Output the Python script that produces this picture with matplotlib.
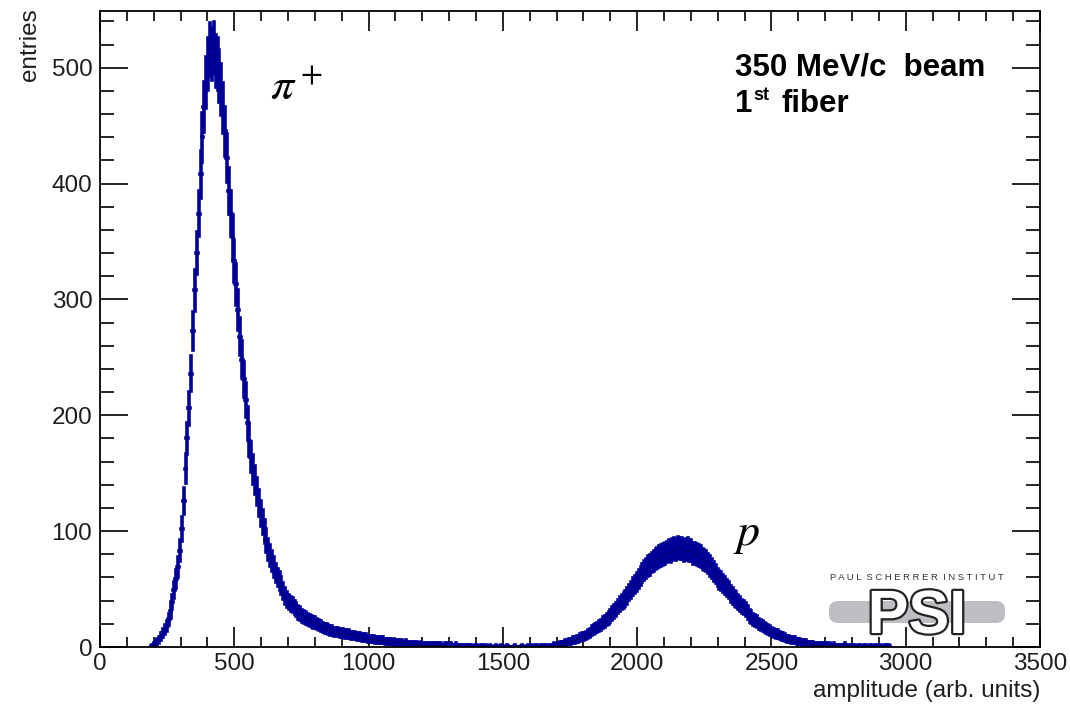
"""Pulse amplitude spectrum of the 1st fiber at 350 MeV/c beam (pi+ and proton peaks)."""

import matplotlib

matplotlib.use("Agg")
import matplotlib.patheffects as pe
import matplotlib.pyplot as plt
import numpy as np
from matplotlib.patches import FancyBboxPatch
from matplotlib.ticker import MultipleLocator

BIN_WIDTH = 7
FIRST_BIN = 189

# pi+ peak and its tail, bins from 189 up to 1372
pion_counts = [
    1, 2, 3, 5, 6, 9, 12, 15, 18, 24,
    31, 39, 49, 59, 69, 83, 102, 126, 154, 180,
    206, 236, 273, 308, 340, 374, 408, 440, 466, 487,
    503, 516, 512, 517, 506, 503, 493, 481, 465, 445,
    422, 394, 374, 354, 333, 313, 291, 268, 248, 231,
    213, 193, 178, 164, 153, 144, 134, 124, 115, 108,
    100, 92, 84, 79, 74, 69, 64, 60, 57, 53,
    48, 44, 41, 39, 37, 36, 34, 32, 30, 29,
    27, 26, 25, 24, 23, 22, 21, 21, 20, 19,
    18, 17, 16, 16, 15, 14, 14, 13, 13, 13,
    12, 12, 12, 11, 11, 11, 10, 10, 10, 9,
    9, 9, 8, 8, 8, 7, 7, 7, 7, 6,
    6, 6, 6, 6, 5, 5, 5, 5, 5, 4,
    4, 4, 4, 4, 3, 4, 3, 3, 3, 3,
    3, 3, 2, 3, 2, 2, 2, 2, 2, 2,
    2, 2, 2, 2, 2, 1, 2, 2, 1, 2,
    1, 1, 2, 1, 1, 1, 1, 1, 1,
]
# almost empty region between the peaks, 1372 .. 1701
gap_counts = [
    1, 1, 0, 1, 1, 0, 1, 1, 0, 1,
    0, 1, 0, 0, 1, 0, 0, 1, 0, 0,
    1, 0, 0, 0, 1, 0, 0, 0, 1, 0,
    0, 1, 0, 1, 0, 1, 1, 0, 1, 1,
    1, 1, 0, 1, 1, 2, 1,
]
# proton peak, 1701 .. 2940
proton_counts = [
    2, 3, 3, 3, 4, 4, 5, 5, 6, 6,
    7, 7, 8, 9, 9, 10, 11, 12, 14, 15,
    16, 17, 18, 19, 21, 22, 24, 25, 27, 29,
    31, 32, 35, 37, 39, 40, 42, 44, 47, 49,
    52, 54, 56, 59, 61, 64, 66, 68, 70, 71,
    73, 74, 76, 77, 78, 79, 80, 81, 82, 83,
    82, 84, 85, 84, 86, 85, 85, 83, 84, 85,
    83, 83, 81, 81, 80, 79, 78, 76, 75, 74,
    72, 70, 68, 65, 63, 60, 58, 57, 55, 53,
    51, 49, 46, 44, 42, 41, 39, 37, 35, 34,
    32, 30, 27, 26, 24, 23, 22, 20, 19, 18,
    17, 16, 15, 14, 13, 12, 11, 11, 10, 9,
    9, 8, 7, 7, 6, 6, 6, 5, 5, 5,
    4, 4, 4, 3, 3, 3, 3, 2, 2, 2,
    2, 2, 2, 2, 1, 2, 1, 2, 1, 1,
    1, 1, 1, 2, 1, 1, 1, 1, 1, 0,
    1, 1, 0, 1, 1, 0, 1, 1, 0, 1,
    1, 0, 1, 0, 1, 1, 1,
]

X_TICKS = [0, 500, 1000, 1500, 2000, 2500, 3000, 3500]
Y_TICKS = [0, 100, 200, 300, 400, 500]

HIST_COLOR = "#000099"
TEXT_COLOR = "#1e1e1e"


def main() -> None:
    plt.rcParams["font.family"] = ["Liberation Sans", "DejaVu Sans"]
    plt.rcParams["mathtext.fontset"] = "stix"

    counts = np.array(pion_counts + gap_counts + proton_counts, dtype=float)
    centers = FIRST_BIN + BIN_WIDTH * (np.arange(len(counts)) + 0.5)

    fig = plt.figure(figsize=(10.70, 7.04), dpi=100)
    ax = fig.add_axes([100 / 1070, 57 / 704, 940 / 1070, 636 / 704])

    _, _, bars = ax.errorbar(
        centers, counts, xerr=BIN_WIDTH / 2, yerr=np.sqrt(counts),
        fmt="o", ms=0.7, mfc="#111111", mec="none",
        ecolor=HIST_COLOR, elinewidth=2.6, capsize=0, zorder=3,
    )
    for coll in bars:
        coll.set_capstyle("projecting")

    ax.set_xlim(0, 3500)
    ax.set_ylim(0, 549)
    ax.set_xticks(X_TICKS)
    ax.set_yticks(Y_TICKS)
    ax.xaxis.set_minor_locator(MultipleLocator(100))
    ax.yaxis.set_minor_locator(MultipleLocator(20))
    ax.tick_params(axis="both", which="both", direction="in", top=True, right=True,
                   labelsize=17.5, labelcolor=TEXT_COLOR, color="black", width=1.2)
    ax.tick_params(axis="x", which="major", length=14.5, pad=4)
    ax.tick_params(axis="x", which="minor", length=7)
    ax.tick_params(axis="y", which="major", length=20, pad=5.5)
    ax.tick_params(axis="y", which="minor", length=10)
    for sp in ax.spines.values():
        sp.set_linewidth(1.3)
        sp.set_zorder(4)

    # overlay in pixel coordinates for labels, annotations and the logo
    ov = fig.add_axes([0, 0, 1, 1], zorder=5)
    ov.set_xlim(0, 1070)
    ov.set_ylim(704, 0)
    ov.axis("off")

    ov.text(1040, 697, "amplitude (arb. units)", ha="right", va="baseline",
            fontsize=17.5, color=TEXT_COLOR)
    ov.text(30, 8, "entries", rotation=90, ha="center", va="top",
            fontsize=17.5, color=TEXT_COLOR)

    ov.text(270, 100, r"$\pi^+$", fontsize=33, ha="left", va="baseline", color="black")
    ov.text(733, 545, r"$p$", fontsize=33, ha="left", va="baseline", color="black")

    ov.text(735, 75, "350 MeV/c  beam", fontsize=22.5, fontweight="bold",
            ha="left", va="baseline", color="black")
    ov.text(735, 112, "1", fontsize=22.5, fontweight="bold",
            ha="left", va="baseline", color="black")
    ov.text(753, 100, "st", fontsize=13, fontweight="bold",
            ha="left", va="baseline", color="black")
    ov.text(781, 112, "fiber", fontsize=22.5, fontweight="bold",
            ha="left", va="baseline", color="black")

    # PSI logo
    ov.add_patch(FancyBboxPatch((829, 601), 176, 22,
                                boxstyle="round,pad=0,rounding_size=9",
                                fc="#bdbec1", ec="none", zorder=1))
    ov.text(917, 580, "P A U L  S C H E R R E R  I N S T I T U T",
            fontsize=6.8, ha="center", va="baseline", color="#333333")
    psi = ov.text(917, 633, "PSI", fontsize=44, fontweight="bold", ha="center",
                  va="baseline", color="white", zorder=2)
    psi.set_path_effects([pe.Stroke(linewidth=3.2, foreground="#222222"), pe.Normal()])

    fig.savefig("out.png", dpi=100)


if __name__ == "__main__":
    main()
